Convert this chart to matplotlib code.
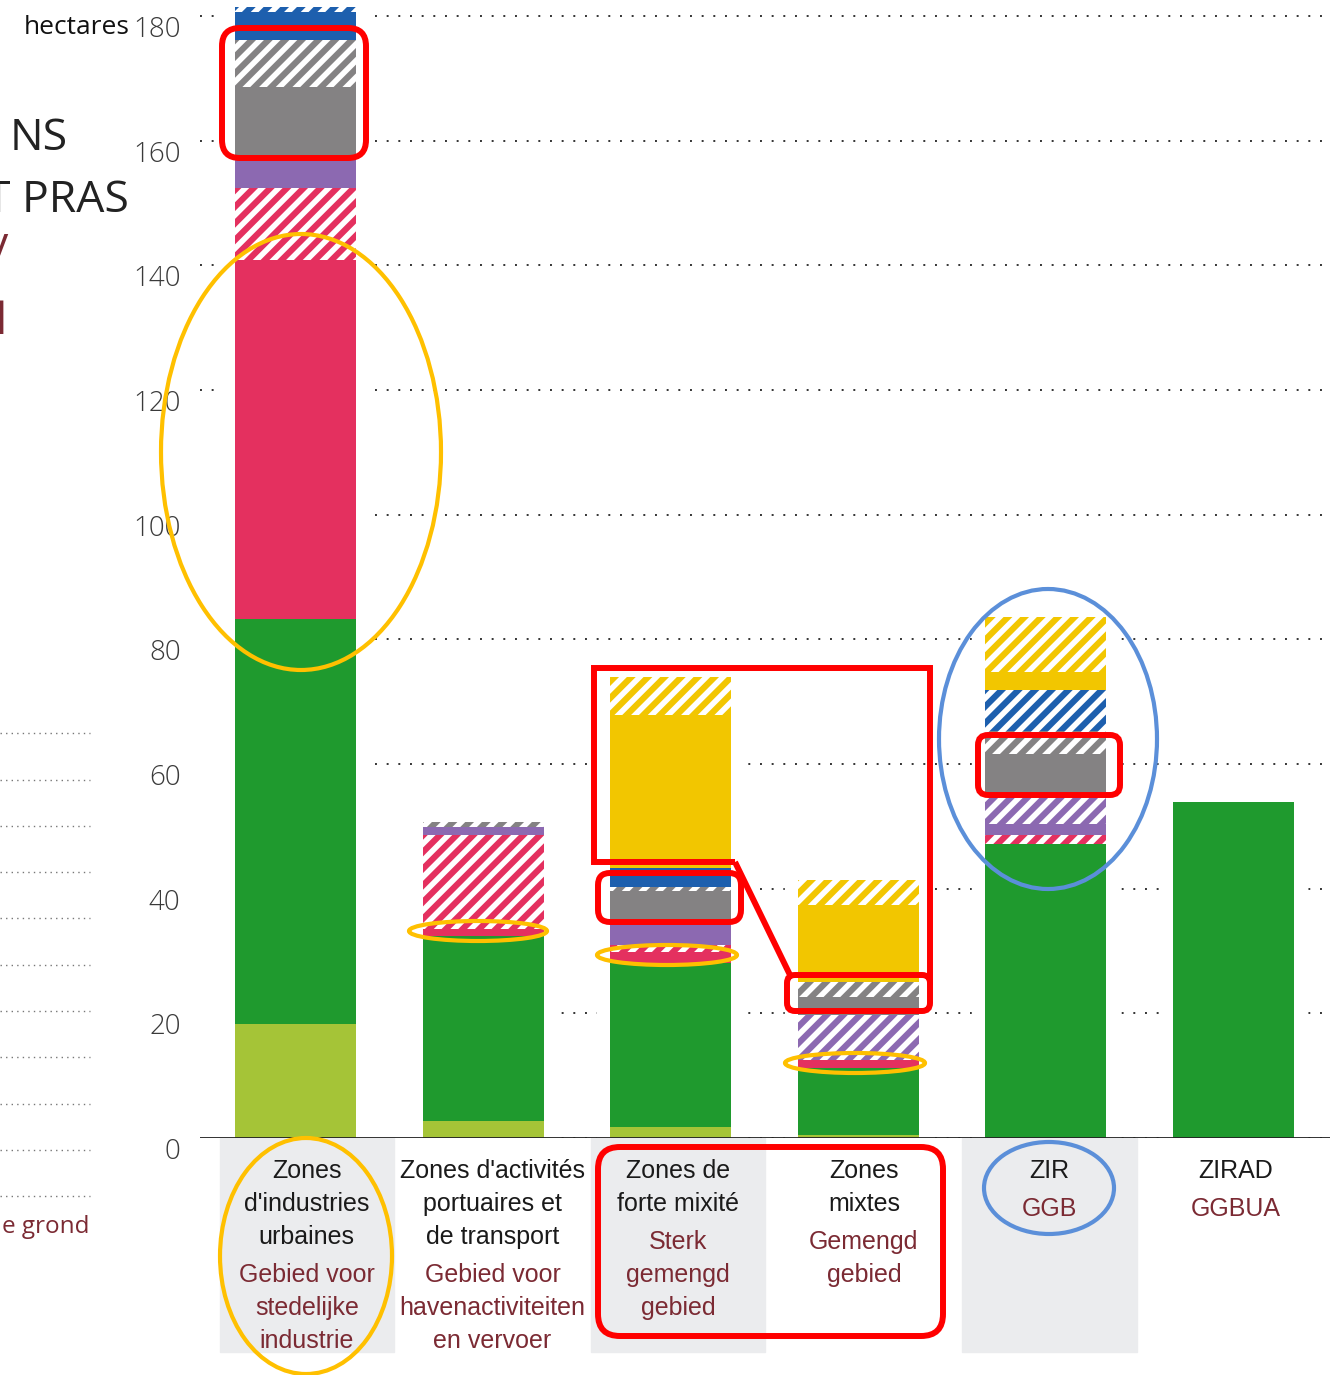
import matplotlib
matplotlib.use('Agg')
import matplotlib.pyplot as plt
import matplotlib.patches as mpatches
import matplotlib.transforms as mtransforms
from matplotlib.lines import Line2D
from matplotlib import font_manager
import numpy as np

# ---- data (hectares) ----
labels_fr = [["Zones", "d'industries", "urbaines"],
             ["Zones d'activités", "portuaires et", "de transport"],
             ["Zones de", "forte mixité"],
             ["Zones", "mixtes"],
             ["ZIR"],
             ["ZIRAD"]]
labels_nl = [["Gebied voor", "stedelijke", "industrie"],
             ["Gebied voor", "havenactiviteiten", "en vervoer"],
             ["Sterk", "gemengd", "gebied"],
             ["Gemengd", "gebied"],
             ["GGB"],
             ["GGBUA"]]

light_green    = [18.3, 2.7, 1.8, 0.5, 0.0, 0.0]
green          = [65.0, 29.7, 26.3, 10.7, 47.2, 53.9]
pink           = [57.6, 1.1, 1.7, 1.3, 0.0, 0.0]
pink_hatched   = [11.5, 15.1, 1.2, 0.0, 1.4, 0.0]
purple         = [5.3, 1.3, 4.0, 0.0, 1.8, 0.0]
purple_hatched = [0.0, 0.0, 0.0, 7.2, 4.3, 0.0]
grey           = [10.9, 0.0, 4.7, 2.9, 6.9, 0.0]
grey_hatched   = [7.6, 0.8, 0.6, 2.4, 3.7, 0.0]
blue           = [4.5, 0.0, 3.0, 0.0, 0.0, 0.0]
blue_hatched   = [0.8, 0.0, 0.0, 0.0, 6.6, 0.0]
yellow         = [0.0, 0.0, 24.6, 12.4, 2.9, 0.0]
yellow_hatched = [0.0, 0.0, 6.1, 4.0, 8.8, 0.0]

yticks = list(range(0, 181, 20))

layers = [
    (light_green, '#a5c437', False),
    (green, '#1f9a2e', False),
    (pink, '#e4305f', False),
    (pink_hatched, '#e4305f', True),
    (purple, '#8c69b1', False),
    (purple_hatched, '#8c69b1', True),
    (grey, '#848283', False),
    (grey_hatched, '#848283', True),
    (blue, '#1d5fae', False),
    (blue_hatched, '#1d5fae', True),
    (yellow, '#f2c600', False),
    (yellow_hatched, '#f2c600', True),
]

# ---- fonts ----
names = {f.name for f in font_manager.fontManager.ttflist}
if 'Liberation Sans Narrow' in names:
    cond_font, cond_size = 'Liberation Sans Narrow', 22
else:
    cond_font, cond_size = 'Liberation Sans', 18
plain_font = ['Open Sans', 'DejaVu Sans']

plt.rcParams['hatch.linewidth'] = 4.0
plt.rcParams['font.family'] = plain_font

DARK_RED = '#7b2a33'

W, H = 1337, 1375
AX_L, AX_R = 200, 1330
BASE = 1138
PX_HA = 6.233
YMAX = 182
STEP = 187.6
X0 = 295.5

fig = plt.figure(figsize=(W / 100, H / 100), dpi=100)
ax = fig.add_axes([AX_L / W, (H - BASE) / H, (AX_R - AX_L) / W, YMAX * PX_HA / H])
ax.set_xlim(-(X0 - AX_L) / STEP, (AX_R - X0) / STEP)
ax.set_ylim(0, YMAX)

x = np.arange(len(labels_fr))
bw = 0.645

bottom = np.zeros(len(x))
for vals, col, hatched in layers:
    ax.bar(x, vals, bottom=bottom, width=bw, color=col,
           hatch='//' if hatched else None,
           edgecolor='white' if hatched else col,
           linewidth=0, zorder=3)
    bottom += np.array(vals)
totals = bottom

# gridlines, hidden around the bars
ax.set_axisbelow(True)
ax.yaxis.grid(True, linestyle=(0, (1, 5)), color='#333333', linewidth=1.4)
for i, top in enumerate(totals):
    ax.add_patch(mpatches.Rectangle((i - bw / 2 - 0.07, 0), bw + 0.14, top,
                                    color='white', zorder=1))
for x0, x1, y0, y1 in [(-0.6, -0.33, 0, 110), (0.33, 0.67, 0, 50), (1.33, 1.67, 30, 50)]:
    ax.add_patch(mpatches.Rectangle((x0, y0), x1 - x0, y1 - y0, color='white', zorder=1))

ax.axhline(0, color='#222222', linewidth=1.3, zorder=4)
for s in ax.spines.values():
    s.set_visible(False)
ax.set_xticks([])
ax.set_yticks(yticks, labels=[str(t) for t in yticks], va='top',
              fontsize=20, color='#3a3a3a', fontweight='light')
ax.tick_params(axis='y', length=0, pad=14)

fig.text(130 / W, 1 - 28 / H, 'hectares', ha='right', va='center',
         fontsize=19, color='#111111')


def ha_of(py):
    return (BASE - py) / PX_HA


# category label bands and text
for i in range(len(x)):
    cx = i + 0.06 - 0.01 * i
    if i % 2 == 0:
        ax.add_patch(mpatches.Rectangle((cx - 0.465, ha_of(1352)), 0.93, ha_of(BASE) - ha_of(1352),
                                        color='#ebecee', zorder=0, clip_on=False))
    row = 1178
    for line in labels_fr[i]:
        ax.text(cx, ha_of(row), line, ha='center', va='baseline', fontsize=cond_size,
                family=[cond_font, 'DejaVu Sans'], color='#1a1a1a', clip_on=False, zorder=5)
        row += 33
    row += 5
    for line in labels_nl[i]:
        ax.text(cx, ha_of(row), line, ha='center', va='baseline', fontsize=cond_size,
                family=[cond_font, 'DejaVu Sans'], color=DARK_RED, clip_on=False, zorder=5)
        row += 33

# cropped title and legend at the left edge
fig.text(10 / W, 1 - 150 / H, 'NS', ha='left', va='baseline', fontsize=32, color='#222222')
fig.text(-14 / W, 1 - 212 / H, 'T PRAS', ha='left', va='baseline', fontsize=32, color='#222222')
fig.text(8 / W, 1 - 258 / H, 'v', ha='right', va='baseline', fontsize=32, color=DARK_RED)
fig.text(6 / W, 1 - 334 / H, 'l', ha='right', va='baseline', fontsize=32, color=DARK_RED)
fig.text(90 / W, 1 - 1233 / H, 'e grond', ha='right', va='baseline', fontsize=17.5, color=DARK_RED)
for ly in [733, 780, 826, 872, 918, 965, 1011, 1057, 1104, 1150, 1196]:
    fig.add_artist(Line2D([0, 90 / W], [1 - ly / H] * 2, transform=fig.transFigure,
                          linestyle=(0, (1, 3)), linewidth=1, color='#777777'))

# ---- highlight marks drawn over the picture (pixel coords, top-left origin) ----
ident = mtransforms.IdentityTransform()
RED, ORANGE, BLUEMARK = '#ff0000', '#ffc000', '#5b8fd9'


def rrect(x0, y0, x1, y1, r=16, lw=4.3, col=RED):
    fig.add_artist(mpatches.FancyBboxPatch((x0, H - y1), x1 - x0, y1 - y0,
                                           boxstyle=f"round,pad=0,rounding_size={r}",
                                           fill=False, edgecolor=col, linewidth=lw,
                                           transform=ident, zorder=10))


def ell(cx, cy, w, h, col, lw=3):
    fig.add_artist(mpatches.Ellipse((cx, H - cy), w, h, fill=False, edgecolor=col,
                                    linewidth=lw, transform=ident, zorder=10))


def poly(pts, lw=4.3, col=RED):
    fig.add_artist(Line2D([p[0] for p in pts], [H - p[1] for p in pts], color=col,
                          linewidth=lw, transform=ident, zorder=10,
                          solid_joinstyle='miter', solid_capstyle='butt'))


rrect(222, 28, 366, 158, r=18)
ell(301, 452, 280, 436, ORANGE)
ell(478, 931, 138, 20, ORANGE)
ell(667, 955, 140, 20, ORANGE)
ell(855, 1063, 140, 20, ORANGE)
poly([(735, 862), (594, 862), (594, 668), (930, 668), (930, 985)])
poly([(735, 862), (790, 975)])
rrect(787, 975, 930, 1011, r=8)
rrect(598, 873, 741, 922, r=12)
rrect(978, 735, 1120, 795, r=10)
ell(1048, 739, 218, 300, BLUEMARK)
rrect(598, 1147, 943, 1336, r=22)
ell(306, 1256, 172, 236, ORANGE)
ell(1049, 1188, 130, 92, BLUEMARK)

fig.savefig('out.png', dpi=100, facecolor='white')
